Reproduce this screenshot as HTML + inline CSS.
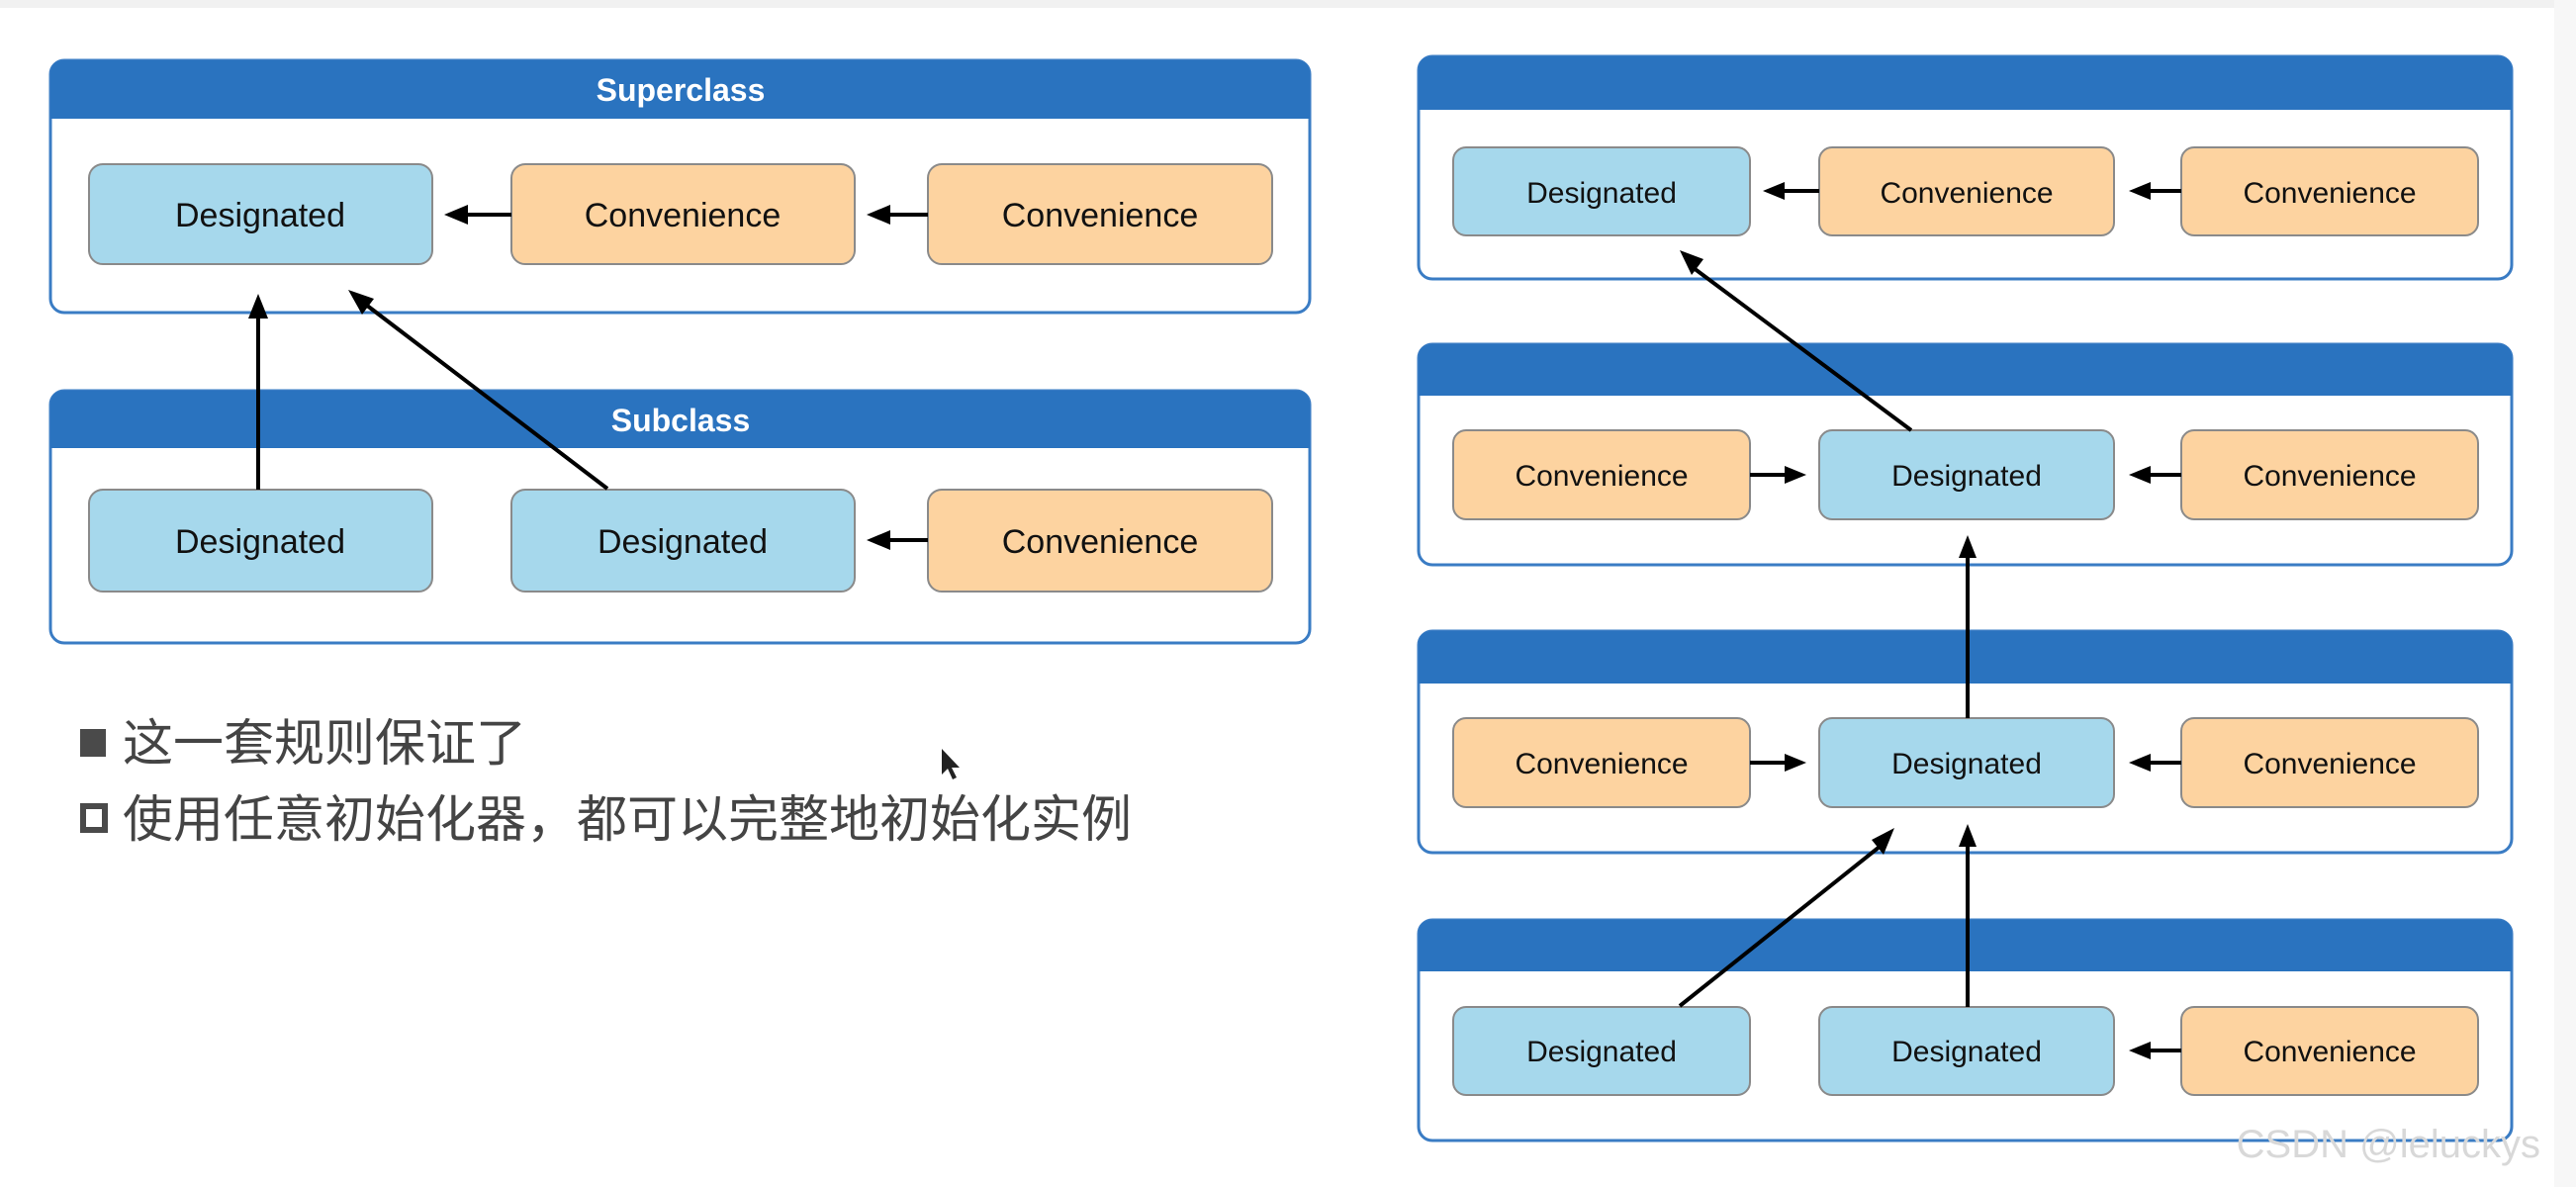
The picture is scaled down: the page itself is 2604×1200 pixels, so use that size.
<!DOCTYPE html>
<html><head><meta charset="utf-8"><style>
html,body{margin:0;padding:0;background:#fff;}
svg{display:block;}
</style></head><body>
<svg width="2604" height="1200" viewBox="0 0 2604 1200" xmlns="http://www.w3.org/2000/svg" font-family="Liberation Sans, Arial, sans-serif">
<defs>
<marker id="ah" markerWidth="10" markerHeight="8" refX="9" refY="4" orient="auto" markerUnits="userSpaceOnUse" viewBox="0 0 10 8">
</marker>
</defs>
<rect x="0" y="0" width="2604" height="8" fill="#f1f1f1"/>
<rect x="2582" y="0" width="22" height="1200" fill="#f7f7f7"/>

<!-- Left: Superclass -->
<g>
<rect x="51" y="61" width="1273" height="255" rx="14" fill="#fff" stroke="#3a7cc4" stroke-width="3"/>
<path d="M51 120 V75 Q51 61 65 61 H1310 Q1324 61 1324 75 V120 Z" fill="#2a73bf"/>
<text x="688" y="102" font-size="32" font-weight="bold" fill="#fff" text-anchor="middle">Superclass</text>
<rect x="90" y="166" width="347" height="101" rx="14" fill="#a6d8ec" stroke="#8a8a8a" stroke-width="2"/>
<rect x="517" y="166" width="347" height="101" rx="14" fill="#fdd3a0" stroke="#8a8a8a" stroke-width="2"/>
<rect x="938" y="166" width="348" height="101" rx="14" fill="#fdd3a0" stroke="#8a8a8a" stroke-width="2"/>
<text x="263" y="229" font-size="34" fill="#111" text-anchor="middle">Designated</text>
<text x="690" y="229" font-size="34" fill="#111" text-anchor="middle">Convenience</text>
<text x="1112" y="229" font-size="34" fill="#111" text-anchor="middle">Convenience</text>
</g>
<!-- Subclass -->
<g>
<rect x="51" y="395" width="1273" height="255" rx="14" fill="#fff" stroke="#3a7cc4" stroke-width="3"/>
<path d="M51 453 V409 Q51 395 65 395 H1310 Q1324 395 1324 409 V453 Z" fill="#2a73bf"/>
<text x="688" y="436" font-size="32" font-weight="bold" fill="#fff" text-anchor="middle">Subclass</text>
<rect x="90" y="495" width="347" height="103" rx="14" fill="#a6d8ec" stroke="#8a8a8a" stroke-width="2"/>
<rect x="517" y="495" width="347" height="103" rx="14" fill="#a6d8ec" stroke="#8a8a8a" stroke-width="2"/>
<rect x="938" y="495" width="348" height="103" rx="14" fill="#fdd3a0" stroke="#8a8a8a" stroke-width="2"/>
<text x="263" y="559" font-size="34" fill="#111" text-anchor="middle">Designated</text>
<text x="690" y="559" font-size="34" fill="#111" text-anchor="middle">Designated</text>
<text x="1112" y="559" font-size="34" fill="#111" text-anchor="middle">Convenience</text>
</g>
<!-- left arrows -->
<g stroke="#000" stroke-width="4" fill="#000">
<line x1="517" y1="217" x2="470" y2="217"/><polygon points="449,217 473,207 473,227" stroke="none"/>
<line x1="938" y1="217" x2="897" y2="217"/><polygon points="876,217 900,207 900,227" stroke="none"/>
<line x1="938" y1="546" x2="897" y2="546"/><polygon points="876,546 900,536 900,556" stroke="none"/>
<line x1="261" y1="495" x2="261" y2="318"/><polygon points="261,297 251,322 271,322" stroke="none"/>
<line x1="614" y1="494" x2="366" y2="305"/><polygon points="352,293 366,318 378,302" stroke="none"/>
</g>

<!-- Right boxes -->
<g id="rb">
<rect x="1434" y="57" width="1105" height="225" rx="14" fill="#fff" stroke="#3a7cc4" stroke-width="3"/>
<path d="M1434 111 V71 Q1434 57 1448 57 H2525 Q2539 57 2539 71 V111 Z" fill="#2a73bf"/>
<rect x="1434" y="348" width="1105" height="223" rx="14" fill="#fff" stroke="#3a7cc4" stroke-width="3"/>
<path d="M1434 400 V362 Q1434 348 1448 348 H2525 Q2539 348 2539 362 V400 Z" fill="#2a73bf"/>
<rect x="1434" y="638" width="1105" height="224" rx="14" fill="#fff" stroke="#3a7cc4" stroke-width="3"/>
<path d="M1434 691 V652 Q1434 638 1448 638 H2525 Q2539 638 2539 652 V691 Z" fill="#2a73bf"/>
<rect x="1434" y="930" width="1105" height="223" rx="14" fill="#fff" stroke="#3a7cc4" stroke-width="3"/>
<path d="M1434 982 V944 Q1434 930 1448 930 H2525 Q2539 930 2539 944 V982 Z" fill="#2a73bf"/>
</g>
<g stroke="#8a8a8a" stroke-width="2">
<rect x="1469" y="149" width="300" height="89" rx="13" fill="#a6d8ec"/>
<rect x="1839" y="149" width="298" height="89" rx="13" fill="#fdd3a0"/>
<rect x="2205" y="149" width="300" height="89" rx="13" fill="#fdd3a0"/>
<rect x="1469" y="435" width="300" height="90" rx="13" fill="#fdd3a0"/>
<rect x="1839" y="435" width="298" height="90" rx="13" fill="#a6d8ec"/>
<rect x="2205" y="435" width="300" height="90" rx="13" fill="#fdd3a0"/>
<rect x="1469" y="726" width="300" height="90" rx="13" fill="#fdd3a0"/>
<rect x="1839" y="726" width="298" height="90" rx="13" fill="#a6d8ec"/>
<rect x="2205" y="726" width="300" height="90" rx="13" fill="#fdd3a0"/>
<rect x="1469" y="1018" width="300" height="89" rx="13" fill="#a6d8ec"/>
<rect x="1839" y="1018" width="298" height="89" rx="13" fill="#a6d8ec"/>
<rect x="2205" y="1018" width="300" height="89" rx="13" fill="#fdd3a0"/>
</g>
<g font-size="30" fill="#111" text-anchor="middle">
<text x="1619" y="205">Designated</text>
<text x="1988" y="205">Convenience</text>
<text x="2355" y="205">Convenience</text>
<text x="1619" y="491">Convenience</text>
<text x="1988" y="491">Designated</text>
<text x="2355" y="491">Convenience</text>
<text x="1619" y="782">Convenience</text>
<text x="1988" y="782">Designated</text>
<text x="2355" y="782">Convenience</text>
<text x="1619" y="1073">Designated</text>
<text x="1988" y="1073">Designated</text>
<text x="2355" y="1073">Convenience</text>
</g>
<g stroke="#000" stroke-width="4" fill="#000">
<line x1="1839" y1="193" x2="1800" y2="193"/><polygon points="1782,193 1804,184 1804,202" stroke="none"/>
<line x1="2205" y1="193" x2="2170" y2="193"/><polygon points="2152,193 2174,184 2174,202" stroke="none"/>
<line x1="1769" y1="480" x2="1808" y2="480"/><polygon points="1826,480 1804,471 1804,489" stroke="none"/>
<line x1="2205" y1="480" x2="2170" y2="480"/><polygon points="2152,480 2174,471 2174,489" stroke="none"/>
<line x1="1769" y1="771" x2="1808" y2="771"/><polygon points="1826,771 1804,762 1804,780" stroke="none"/>
<line x1="2205" y1="771" x2="2170" y2="771"/><polygon points="2152,771 2174,762 2174,780" stroke="none"/>
<line x1="2205" y1="1062" x2="2170" y2="1062"/><polygon points="2152,1062 2174,1053 2174,1071" stroke="none"/>
<line x1="1932" y1="435" x2="1708" y2="268"/><polygon points="1698,253 1710,278 1722,262" stroke="none"/>
<line x1="1989" y1="726" x2="1989" y2="560"/><polygon points="1989,541 1980,564 1998,564" stroke="none"/>
<line x1="1989" y1="1018" x2="1989" y2="852"/><polygon points="1989,833 1980,856 1998,856" stroke="none"/>
<line x1="1698" y1="1017" x2="1905" y2="852"/><polygon points="1915,837 1892,849 1904,864" stroke="none"/>
</g>

<!-- bullets -->
<rect x="81" y="737" width="26" height="28" fill="#4a4a4a"/>
<rect x="84" y="815" width="22" height="24" fill="none" stroke="#4a4a4a" stroke-width="6"/>
<g font-family="Liberation Sans, Noto Sans CJK SC, sans-serif" font-size="51" fill="#444">
<text x="124" y="769">这一套规则保证了</text>
<text x="124" y="846">使用任意初始化器，都可以完整地初始化实例</text>
</g>
<!-- cursor -->
<polygon points="952,757 952,783 958,777 963,788 967,786 962,776 970,776" fill="#222"/>
<text x="2568" y="1170" font-size="40" fill="#d8d8d8" text-anchor="end">CSDN @leluckys</text>
</svg>
</body></html>
